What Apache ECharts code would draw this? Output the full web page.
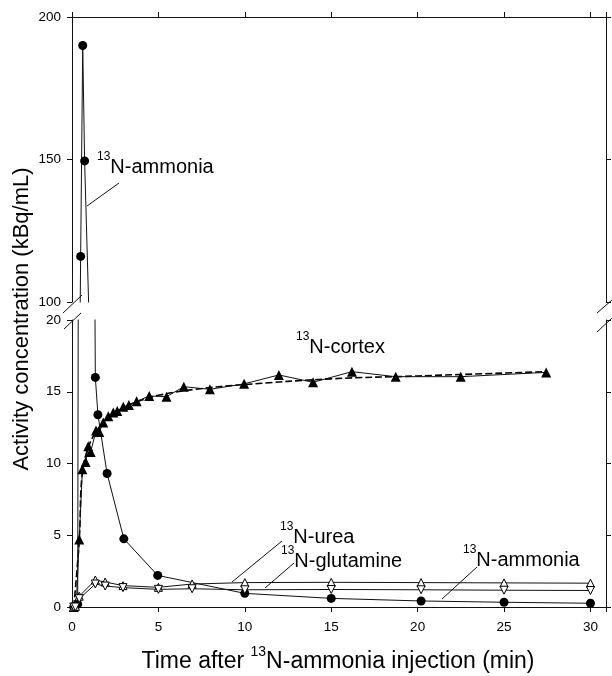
<!DOCTYPE html>
<html>
<head>
<meta charset="utf-8">
<script src="https://cdn.jsdelivr.net/npm/echarts@6/dist/echarts.min.js"></script>
<style>
  html, body { margin: 0; padding: 0; background: #fff; }
  #chart { width: 612px; height: 676px; }
</style>
</head>
<body>
<div id="chart"></div>
<script>
// values, [time (min), activity (kBq/mL)]
var ammonia = [[0.1, 0], [0.33, 0.2], [0.5, 116], [0.62, 190], [0.73, 149.5], [1.35, 16.0], [1.5, 13.4],
  [2.03, 9.3], [3.0, 4.75], [4.96, 2.2], [10, 0.95], [15, 0.6], [20.2, 0.42], [25, 0.33], [30, 0.26]];
var cortex = [[0.1, 0], [0.25, 0.3], [0.42, 4.7], [0.6, 9.6], [0.79, 10.1], [0.94, 11.2], [1.08, 10.8],
  [1.39, 12.3], [1.58, 12.2], [1.81, 12.85], [2.1, 13.3], [2.39, 13.55], [2.62, 13.66], [2.97, 13.96],
  [3.29, 14.08], [3.74, 14.33], [4.47, 14.7], [5.47, 14.66], [6.47, 15.35], [7.98, 15.17], [9.96, 15.55],
  [11.97, 16.17], [13.95, 15.66], [16.2, 16.4], [18.73, 16.05], [22.49, 16.05], [27.44, 16.35]];
var cortexFit = [[0.1, 0], [0.42, 4.7], [0.6, 9.4], [1.0, 11.3], [1.5, 12.4], [2.0, 13.1], [3.0, 13.9],
  [4.0, 14.4], [5.0, 14.75], [7.0, 15.15], [10, 15.5], [15, 15.9], [20, 16.1], [27.44, 16.4]];
var urea = [[0.1, 0], [0.2, 0.05], [0.42, 0.75], [1.35, 1.88], [1.92, 1.74], [2.95, 1.49], [5, 1.37],
  [6.95, 1.6], [10, 1.7], [15, 1.72], [20.2, 1.7], [25, 1.68], [30, 1.66]];
var glutamine = [[0.1, 0], [0.2, 0], [0.42, 0.58], [1.35, 1.6], [1.92, 1.46], [2.95, 1.35], [5, 1.23],
  [6.95, 1.27], [10, 1.2], [15, 1.22], [20.2, 1.2], [25, 1.17], [30, 1.15]];

var timeTicks = [0, 5, 10, 15, 20, 25, 30];
var lowTicks = [0, 5, 10, 15, 20];
var highTicks = [100, 150, 200];

var font = 'Liberation Sans, Arial, sans-serif';
var ink = '#111';

var chart = echarts.init(document.getElementById('chart'));

function xAxisFor(grid, pos, labels) {
  return {
    type: 'value', gridIndex: grid, position: pos,
    min: 0, max: 30.9, interval: 5,
    axisLine: { show: true, onZero: false, lineStyle: { color: ink, width: 1 } },
    axisTick: { show: true, length: 5, lineStyle: { color: ink } },
    axisLabel: {
      show: labels, color: '#000', fontSize: 13.5, margin: 13, fontFamily: font,
      formatter: function (v) { return timeTicks.indexOf(v) >= 0 ? String(v) : ''; }
    },
    splitLine: { show: false }
  };
}

function yAxisFor(grid, pos, ticks, labels) {
  return {
    type: 'value', gridIndex: grid, position: pos,
    min: ticks[0], max: ticks[ticks.length - 1], interval: ticks[1] - ticks[0],
    axisLine: { show: true, onZero: false, lineStyle: { color: ink, width: 1 } },
    axisTick: { show: true, length: 5, lineStyle: { color: ink } },
    axisLabel: { show: labels, color: '#000', fontSize: 13.5, margin: 11, fontFamily: font },
    splitLine: { show: false }
  };
}

var lineBase = { type: 'line', clip: true, animation: false, lineStyle: { color: ink, width: 1 } };

function ammoniaSeries(xi, yi) {
  return Object.assign({}, lineBase, {
    xAxisIndex: xi, yAxisIndex: yi, data: ammonia, z: 4,
    symbol: 'circle', symbolSize: 9,
    itemStyle: { color: '#000', borderWidth: 0 }
  });
}

// labels with a superscript mass number
function isoLabel(x, y, sup, rest) {
  return {
    type: 'text', x: x, y: y, z: 10,
    style: {
      text: '{s|' + sup + '}{n|' + rest + '}',
      fontFamily: font, fill: '#000',
      textVerticalAlign: 'top', verticalAlign: 'top',
      rich: {
        s: { fontSize: 12, lineHeight: 12, verticalAlign: 'top', fontFamily: font, fill: '#000' },
        n: { fontSize: 20, lineHeight: 32, fontFamily: font, fill: '#000' }
      }
    }
  };
}

function seg(x1, y1, x2, y2) {
  return { type: 'line', z: 10, shape: { x1: x1, y1: y1, x2: x2, y2: y2 },
    style: { stroke: ink, lineWidth: 1 } };
}

chart.setOption({
  backgroundColor: '#fff',
  animation: false,
  textStyle: { fontFamily: font },
  grid: [
    { left: 72, right: 6, top: 17, height: 285 },
    { left: 72, right: 6, top: 320, height: 287 }
  ],
  xAxis: [xAxisFor(0, 'top', false), xAxisFor(1, 'bottom', true)],
  yAxis: [
    yAxisFor(0, 'left', highTicks, true),
    yAxisFor(0, 'right', highTicks, false),
    yAxisFor(1, 'left', lowTicks, true),
    yAxisFor(1, 'right', lowTicks, false)
  ],
  series: [
    ammoniaSeries(0, 0),
    ammoniaSeries(1, 2),
    Object.assign({}, lineBase, {
      xAxisIndex: 1, yAxisIndex: 2, data: cortexFit, smooth: 0.4, symbol: 'none', z: 3,
      lineStyle: { color: '#000', width: 1.6, type: [7, 3] }
    }),
    Object.assign({}, lineBase, {
      xAxisIndex: 1, yAxisIndex: 2, data: cortex, z: 5,
      symbol: 'triangle', symbolSize: 10,
      itemStyle: { color: '#000', borderWidth: 0 }
    }),
    Object.assign({}, lineBase, {
      xAxisIndex: 1, yAxisIndex: 2, data: urea, z: 6,
      symbol: 'triangle', symbolSize: 8,
      itemStyle: { color: '#fff', borderColor: '#000', borderWidth: 1 }
    }),
    Object.assign({}, lineBase, {
      xAxisIndex: 1, yAxisIndex: 2, data: glutamine, z: 6,
      symbol: 'triangle', symbolRotate: 180, symbolSize: 8,
      itemStyle: { color: '#fff', borderColor: '#000', borderWidth: 1 }
    })
  ],
  graphic: [
    // axis break marks
    seg(63, 313, 82, 295), seg(64, 329, 81, 313),
    seg(597, 313, 612, 300), seg(597, 332, 612, 318),
    // annotations and leader lines
    isoLabel(97, 151, '13', 'N-ammonia'), seg(87, 206, 119, 183),
    isoLabel(296, 331, '13', 'N-cortex'),
    isoLabel(280, 521, '13', 'N-urea'), seg(232, 582, 282, 541),
    isoLabel(281, 545, '13', 'N-glutamine'), seg(265, 588, 294, 563),
    isoLabel(463, 544, '13', 'N-ammonia'), seg(442, 599, 477, 567),
    // axis titles
    {
      type: 'text', x: 338, y: 645, z: 10,
      style: {
        text: '{n|Time after }{s|13}{n|N-ammonia injection (min)}',
        fontFamily: font, fill: '#000',
        textAlign: 'center', align: 'center', textVerticalAlign: 'top', verticalAlign: 'top',
        rich: {
          s: { fontSize: 14, lineHeight: 14, verticalAlign: 'top', fontFamily: font, fill: '#000' },
          n: { fontSize: 23, lineHeight: 33, fontFamily: font, fill: '#000' }
        }
      }
    },
    {
      type: 'text', x: 22, y: 319, rotation: Math.PI / 2, z: 10,
      style: {
        text: 'Activity concentration (kBq/mL)', fontFamily: font, fontSize: 22, fill: '#000',
        textAlign: 'center', align: 'center', textVerticalAlign: 'middle', verticalAlign: 'middle'
      }
    }
  ]
});
</script>
</body>
</html>
